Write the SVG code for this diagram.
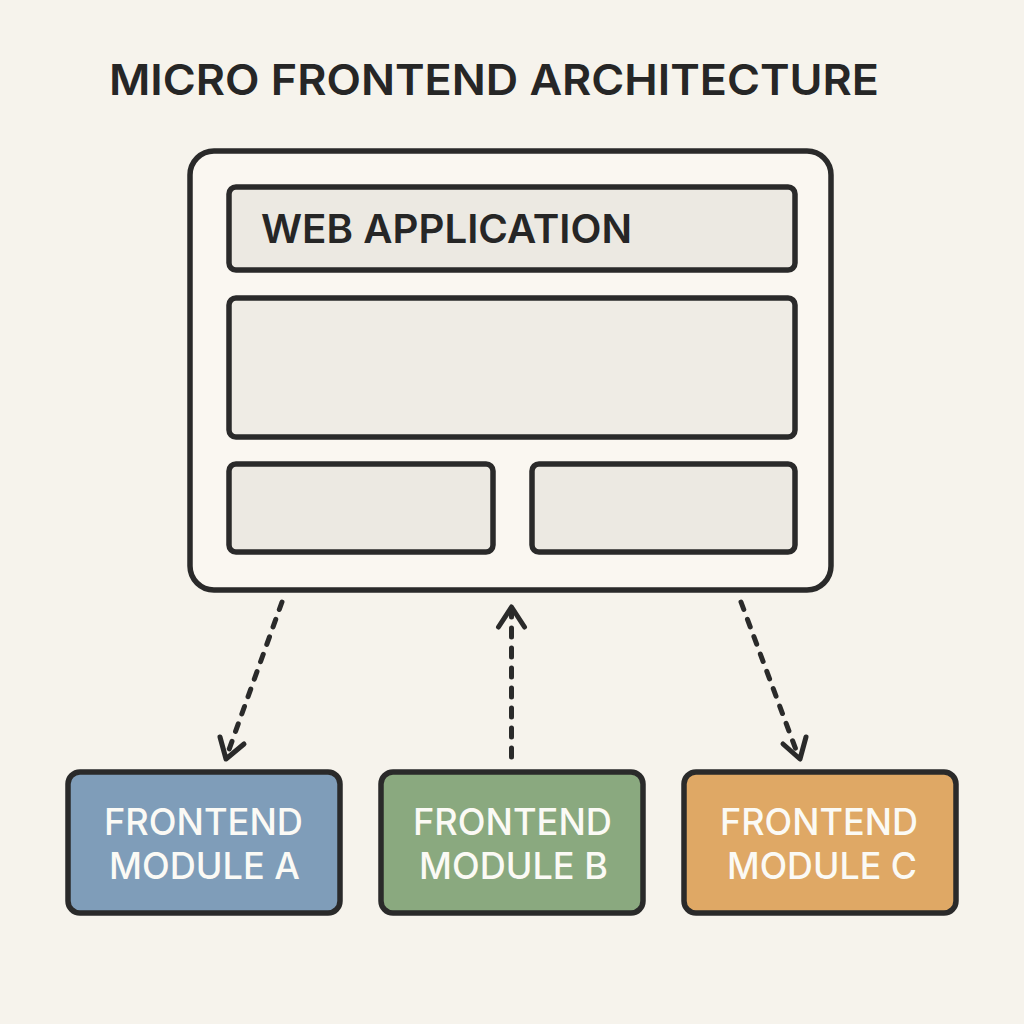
<svg xmlns="http://www.w3.org/2000/svg" width="1024" height="1024" viewBox="0 0 1024 1024">
<style>
text{font-family:Inter,"Liberation Sans",sans-serif}
.t{fill:#262626;font-weight:600}
.w{fill:#fbfaf5;font-size:36.5px;font-weight:500;text-anchor:middle}
.p{fill:#ece9e2;stroke:#2a2a2a;stroke-width:5.5}
.m{stroke:#2a2a2a;stroke-width:5.5}
.c{fill:none;stroke:#2a2a2a;stroke-width:5;stroke-linecap:round}
.a{fill:none;stroke:#2a2a2a;stroke-width:5;stroke-linecap:round;stroke-linejoin:round}
</style>
<rect width="1024" height="1024" fill="#f6f3ec"/>
<text class="t" x="109" y="95" font-size="43" textLength="770" lengthAdjust="spacingAndGlyphs">MICRO FRONTEND ARCHITECTURE</text>
<g id="web-application">
<rect x="190" y="151" width="641" height="439" rx="24" fill="#faf7f1" stroke="#2a2a2a" stroke-width="5.5"/>
<rect class="p" x="229" y="187" width="566" height="83" rx="7"/>
<text class="t" x="261" y="243" font-size="39" textLength="371" lengthAdjust="spacingAndGlyphs">WEB APPLICATION</text>
<rect class="p" x="229" y="298" width="566" height="139" rx="7" style="fill:#efece5"/>
<rect class="p" x="229" y="464" width="264" height="88" rx="7"/>
<rect class="p" x="532" y="464" width="263" height="88" rx="7"/>
</g>
<g id="connectors">
<path class="c" d="M282 602L226 758" stroke-dasharray="8 10.5"/>
<path class="a" d="M220 737L226 759L244 744"/>
<path class="c" d="M511.500 757V609" stroke-dasharray="9 11"/>
<path class="a" d="M498.500 627L511.500 607L524.500 627"/>
<path class="c" d="M741 602L799 758" stroke-dasharray="8 10.500"/>
<path class="a" d="M783 744L800 759L806 737"/>
</g>
<g id="module-a">
<rect class="m" x="68" y="772" width="272" height="141" rx="12" fill="#7f9db9"/>
<text class="w" x="203.500" y="835" textLength="199" lengthAdjust="spacingAndGlyphs">FRONTEND</text>
<text class="w" x="204.500" y="879" textLength="191" lengthAdjust="spacingAndGlyphs">MODULE A</text>
</g>
<g id="module-b">
<rect class="m" x="381" y="772" width="262" height="141" rx="12" fill="#8aa97f"/>
<text class="w" x="512.500" y="835" textLength="199" lengthAdjust="spacingAndGlyphs">FRONTEND</text>
<text class="w" x="513.500" y="879" textLength="189" lengthAdjust="spacingAndGlyphs">MODULE B</text>
</g>
<g id="module-c">
<rect class="m" x="684" y="772" width="272" height="141" rx="12" fill="#dfa865"/>
<text class="w" x="819" y="835" textLength="198" lengthAdjust="spacingAndGlyphs">FRONTEND</text>
<text class="w" x="822" y="879" textLength="190" lengthAdjust="spacingAndGlyphs">MODULE C</text>
</g>
</svg>
